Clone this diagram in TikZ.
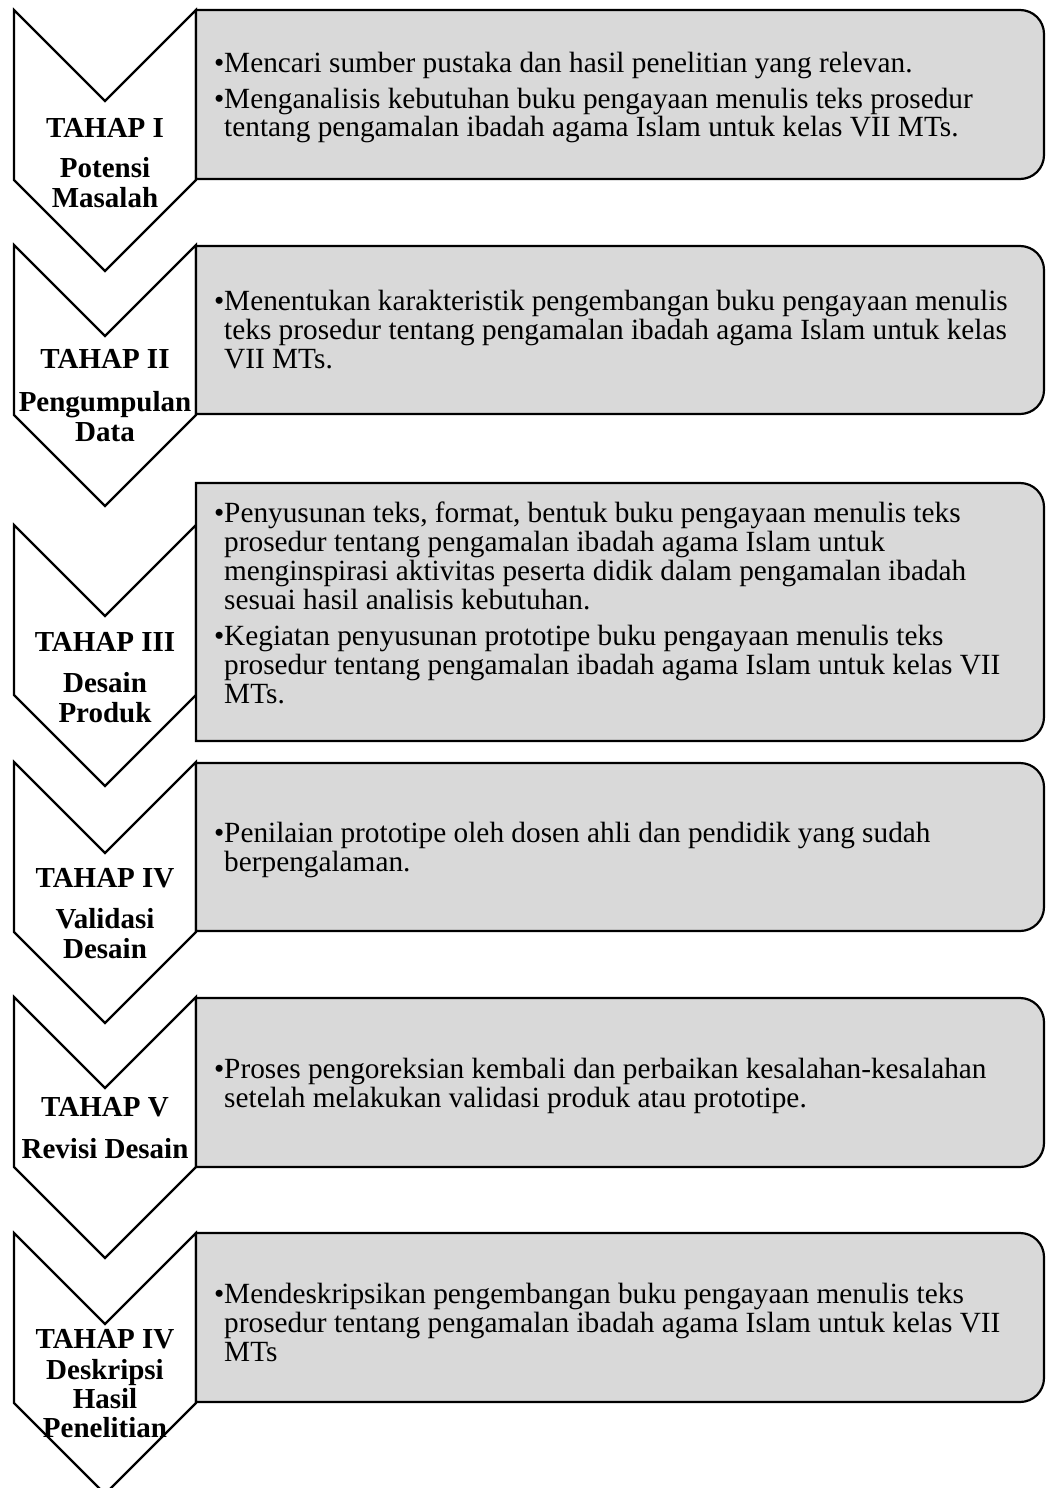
\documentclass[tikz,border=0pt]{standalone}
\usepackage{fontspec}
\setmainfont{Liberation Serif}
\definecolor{boxgray}{HTML}{D9D9D9}
\newcommand\txtfont{\fontsize{29.3}{29}\selectfont}
\newcommand\labfont{\fontsize{29}{30}\selectfont\bfseries}
\newcommand\bitem[1]{\par\hangindent=10pt\hangafter=1\noindent\makebox[10pt][l]{•}#1\par}
\newcommand\chevronshape[1]{\draw[chev] (14,#1) -- (105,{#1+91}) -- (196,#1) -- (196,{#1+170}) -- (105,{#1+261}) -- (14,{#1+170}) -- cycle;}
\newcommand\roundbox[2]{\draw[rbox] (196,#1) -- (1020,#1) .. controls (1033.3,#1) and (1044,{#1+10.7}) .. (1044,{#1+24}) -- (1044,{#2-24}) .. controls (1044,{#2-10.7}) and (1033.3,#2) .. (1020,#2) -- (196,#2) -- cycle;}
\newcommand\boxtext[1]{\parbox[t]{900pt}{\txtfont\raggedright\parskip=7pt #1}}
\begin{document}
\begin{tikzpicture}[x=1pt,y=-1pt,
  chev/.style={draw=black,fill=white,line width=2.2pt,line join=miter},
  rbox/.style={draw=black,fill=boxgray,line width=2.2pt},
  lab/.style={font=\labfont,anchor=base,inner sep=0pt},
  txt/.style={anchor=base west,inner sep=0pt}]
\useasboundingbox (0,0) rectangle (1046,1488);
% chevrons
\chevronshape{10}
\chevronshape{245}
\chevronshape{525}
\chevronshape{762}
\chevronshape{997}
\chevronshape{1233}
% boxes
\roundbox{10}{179}
\roundbox{246}{414}
\roundbox{483}{741}
\roundbox{763}{931}
\roundbox{998}{1167}
\roundbox{1233}{1402}
% chevron labels
\node[lab] (l1a) at (105,137) {TAHAP I};
\node[lab] (l1b) at (105,177) {Potensi};
\node[lab] (l1c) at (105,207) {Masalah};
\node[lab] (l2a) at (105,368) {TAHAP II};
\node[lab] (l2b) at (105,411) {Pengumpulan};
\node[lab] (l2c) at (105,441) {Data};
\node[lab] (l3a) at (105,651) {TAHAP III};
\node[lab] (l3b) at (105,692) {Desain};
\node[lab] (l3c) at (105,722) {Produk};
\node[lab] (l4a) at (105,887) {TAHAP IV};
\node[lab] (l4b) at (105,928) {Validasi};
\node[lab] (l4c) at (105,958) {Desain};
\node[lab] (l5a) at (105,1116) {TAHAP V};
\node[lab] (l5b) at (105,1158) {Revisi Desain};
\node[lab] (l6a) at (105,1348) {TAHAP IV};
\node[lab] (l6b) at (105,1379) {Deskripsi};
\node[lab] (l6c) at (105,1408) {Hasil};
\node[lab] (l6d) at (105,1437) {Penelitian};
% box texts
\node[txt] (t1) at (214,72) {\boxtext{%
\bitem{Mencari sumber pustaka dan hasil penelitian yang relevan.}%
\bitem{Menganalisis kebutuhan buku pengayaan menulis teks prosedur\newline tentang pengamalan ibadah agama Islam untuk kelas VII MTs.}}};
\node[txt] (t2) at (214,310) {\boxtext{%
\bitem{Menentukan karakteristik pengembangan buku pengayaan menulis\newline teks prosedur tentang pengamalan ibadah agama Islam untuk kelas\newline VII MTs.}}};
\node[txt] (t3) at (214,522) {\boxtext{%
\bitem{Penyusunan teks, format, bentuk buku pengayaan menulis teks\newline prosedur tentang pengamalan ibadah agama Islam untuk\newline menginspirasi aktivitas peserta didik dalam pengamalan ibadah\newline sesuai hasil analisis kebutuhan.}%
\bitem{Kegiatan penyusunan prototipe buku pengayaan menulis teks\newline prosedur tentang pengamalan ibadah agama Islam untuk kelas VII\newline MTs.}}};
\node[txt] (t4) at (214,842) {\boxtext{%
\bitem{Penilaian prototipe oleh dosen ahli dan pendidik yang sudah\newline berpengalaman.}}};
\node[txt] (t5) at (214,1078) {\boxtext{%
\bitem{Proses pengoreksian kembali dan perbaikan kesalahan-kesalahan\newline setelah melakukan validasi produk atau prototipe.}}};
\node[txt] (t6) at (214,1303) {\boxtext{%
\bitem{Mendeskripsikan pengembangan buku pengayaan menulis teks\newline prosedur tentang pengamalan ibadah agama Islam untuk kelas VII\newline MTs}}};
\end{tikzpicture}
\end{document}
